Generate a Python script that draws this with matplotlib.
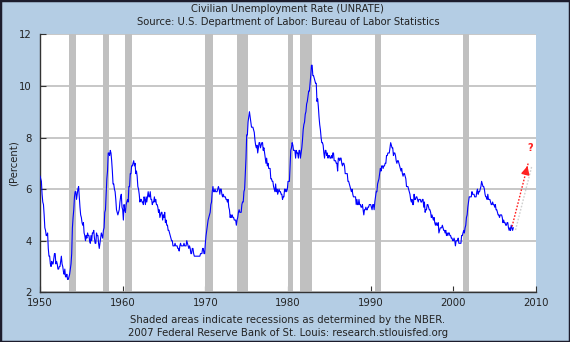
import numpy as np
import matplotlib
matplotlib.use("Agg")
import matplotlib.pyplot as plt  # noqa: E402
from matplotlib.patches import Rectangle  # noqa: E402
import matplotlib.patheffects as pe  # noqa: E402

# monthly civilian unemployment rate (%), Jan of first year onward
rate_1950s = [
    6.5, 6.4, 6.3, 5.8, 5.5, 5.4, 5.0, 4.5, 4.4, 4.2, 4.2, 4.3,
    3.7, 3.4, 3.4, 3.1, 3.0, 3.2, 3.1, 3.1, 3.3, 3.5, 3.5, 3.1,
    3.2, 3.1, 2.9, 2.9, 3.0, 3.0, 3.2, 3.4, 3.1, 3.0, 2.8, 2.7,
    2.9, 2.6, 2.6, 2.7, 2.5, 2.5, 2.6, 2.7, 2.9, 3.1, 3.5, 4.5,
    4.9, 5.2, 5.7, 5.9, 5.9, 5.6, 5.8, 6.0, 6.1, 5.7, 5.3, 5.0,
    4.9, 4.7, 4.6, 4.7, 4.3, 4.2, 4.0, 4.2, 4.1, 4.3, 4.2, 4.2,
    4.0, 3.9, 4.2, 4.0, 4.3, 4.3, 4.4, 4.1, 3.9, 3.9, 4.3, 4.2,
    4.2, 3.9, 3.7, 3.9, 4.1, 4.3, 4.2, 4.1, 4.4, 4.5, 5.1, 5.2,
    5.8, 6.4, 6.7, 7.4, 7.4, 7.3, 7.5, 7.4, 7.1, 6.7, 6.2, 6.2,
    6.0, 5.9, 5.6, 5.2, 5.1, 5.0, 5.1, 5.2, 5.5, 5.7, 5.8, 5.3,
]
rate_1960s = [
    5.2, 4.8, 5.4, 5.2, 5.1, 5.4, 5.5, 5.6, 5.5, 6.1, 6.1, 6.6,
    6.6, 6.9, 6.9, 7.0, 7.1, 6.9, 7.0, 6.6, 6.7, 6.5, 6.1, 6.0,
    5.8, 5.5, 5.6, 5.6, 5.5, 5.5, 5.4, 5.7, 5.6, 5.4, 5.7, 5.5,
    5.7, 5.9, 5.7, 5.7, 5.9, 5.6, 5.6, 5.4, 5.5, 5.5, 5.7, 5.5,
    5.6, 5.4, 5.4, 5.3, 5.1, 5.2, 4.9, 5.0, 5.1, 5.1, 4.8, 5.0,
    4.9, 5.1, 4.7, 4.8, 4.6, 4.6, 4.4, 4.4, 4.3, 4.2, 4.1, 4.0,
    4.0, 3.8, 3.8, 3.8, 3.9, 3.8, 3.8, 3.8, 3.7, 3.7, 3.6, 3.8,
    3.9, 3.8, 3.8, 3.8, 3.8, 3.9, 3.8, 3.8, 3.8, 4.0, 3.9, 3.8,
    3.7, 3.8, 3.7, 3.5, 3.5, 3.7, 3.7, 3.5, 3.4, 3.4, 3.4, 3.4,
    3.4, 3.4, 3.4, 3.4, 3.4, 3.5, 3.5, 3.5, 3.7, 3.7, 3.5, 3.5,
]
rate_1970s = [
    3.9, 4.2, 4.4, 4.6, 4.8, 4.9, 5.0, 5.1, 5.4, 5.5, 5.9, 6.1,
    5.9, 5.9, 6.0, 5.9, 5.9, 5.9, 6.0, 6.1, 6.0, 5.8, 6.0, 6.0,
    5.8, 5.7, 5.8, 5.7, 5.7, 5.7, 5.6, 5.6, 5.5, 5.6, 5.3, 5.2,
    4.9, 5.0, 4.9, 5.0, 4.9, 4.9, 4.8, 4.8, 4.8, 4.6, 4.8, 4.9,
    5.1, 5.2, 5.1, 5.1, 5.1, 5.4, 5.5, 5.5, 5.9, 6.0, 6.6, 7.2,
    8.1, 8.1, 8.6, 8.8, 9.0, 8.8, 8.6, 8.4, 8.4, 8.4, 8.3, 8.2,
    7.9, 7.7, 7.6, 7.7, 7.4, 7.6, 7.8, 7.8, 7.6, 7.7, 7.8, 7.8,
    7.5, 7.6, 7.4, 7.2, 7.0, 7.2, 6.9, 7.0, 6.8, 6.8, 6.8, 6.4,
    6.4, 6.3, 6.3, 6.1, 6.0, 5.9, 6.2, 5.9, 6.0, 5.8, 5.9, 6.0,
    5.9, 5.9, 5.8, 5.8, 5.6, 5.7, 5.7, 6.0, 5.9, 6.0, 5.9, 6.0,
]
rate_1980s = [
    6.3, 6.3, 6.3, 6.9, 7.5, 7.6, 7.8, 7.7, 7.5, 7.5, 7.5, 7.2,
    7.5, 7.4, 7.4, 7.2, 7.5, 7.5, 7.2, 7.4, 7.6, 7.9, 8.3, 8.5,
    8.6, 8.9, 9.0, 9.3, 9.4, 9.6, 9.8, 9.8, 10.1, 10.4, 10.8, 10.8,
    10.4, 10.4, 10.3, 10.2, 10.1, 10.1, 9.4, 9.5, 9.2, 8.8, 8.5, 8.3,
    8.0, 7.8, 7.8, 7.7, 7.4, 7.2, 7.5, 7.5, 7.3, 7.4, 7.2, 7.3,
    7.3, 7.2, 7.2, 7.3, 7.2, 7.4, 7.4, 7.1, 7.1, 7.1, 7.0, 7.0,
    6.7, 7.2, 7.2, 7.1, 7.2, 7.2, 7.0, 6.9, 7.0, 7.0, 6.9, 6.6,
    6.6, 6.6, 6.6, 6.3, 6.3, 6.2, 6.1, 6.0, 5.9, 6.0, 5.8, 5.7,
    5.7, 5.7, 5.7, 5.4, 5.6, 5.4, 5.4, 5.6, 5.4, 5.4, 5.3, 5.3,
    5.4, 5.2, 5.0, 5.2, 5.2, 5.3, 5.2, 5.2, 5.3, 5.3, 5.4, 5.4,
]
rate_1990s = [
    5.4, 5.3, 5.2, 5.4, 5.4, 5.2, 5.5, 5.7, 5.9, 5.9, 6.2, 6.3,
    6.4, 6.6, 6.8, 6.7, 6.9, 6.9, 6.8, 6.9, 6.9, 7.0, 7.0, 7.3,
    7.3, 7.4, 7.4, 7.4, 7.6, 7.8, 7.7, 7.6, 7.6, 7.3, 7.4, 7.4,
    7.3, 7.1, 7.0, 7.1, 7.1, 7.0, 6.9, 6.8, 6.7, 6.8, 6.6, 6.5,
    6.6, 6.6, 6.5, 6.4, 6.1, 6.1, 6.1, 6.0, 5.9, 5.8, 5.6, 5.5,
    5.6, 5.4, 5.4, 5.8, 5.6, 5.6, 5.7, 5.7, 5.6, 5.5, 5.6, 5.6,
    5.6, 5.5, 5.5, 5.6, 5.6, 5.3, 5.5, 5.1, 5.2, 5.2, 5.4, 5.4,
    5.3, 5.2, 5.2, 5.1, 4.9, 5.0, 4.9, 4.8, 4.9, 4.7, 4.6, 4.7,
    4.6, 4.6, 4.7, 4.3, 4.4, 4.5, 4.5, 4.5, 4.6, 4.5, 4.4, 4.4,
    4.3, 4.4, 4.2, 4.3, 4.2, 4.3, 4.3, 4.2, 4.2, 4.1, 4.1, 4.0,
]
rate_2000s = [
    4.0, 4.1, 4.0, 3.8, 4.0, 4.0, 4.0, 4.1, 3.9, 3.9, 3.9, 3.9,
    4.2, 4.2, 4.3, 4.4, 4.3, 4.5, 4.6, 4.9, 5.0, 5.3, 5.5, 5.7,
    5.7, 5.7, 5.7, 5.9, 5.8, 5.8, 5.8, 5.7, 5.7, 5.7, 5.9, 6.0,
    5.8, 5.9, 5.9, 6.0, 6.1, 6.3, 6.2, 6.1, 6.1, 6.0, 5.8, 5.7,
    5.7, 5.6, 5.8, 5.6, 5.6, 5.6, 5.5, 5.4, 5.4, 5.5, 5.4, 5.4,
    5.3, 5.4, 5.2, 5.2, 5.1, 5.0, 5.0, 4.9, 5.0, 5.0, 5.0, 4.9,
    4.7, 4.8, 4.7, 4.7, 4.6, 4.6, 4.7, 4.7, 4.5, 4.4, 4.5, 4.4,
    4.6, 4.5, 4.4, 4.5,
]
start_year = 1950

# NBER recessions (start, end) in decimal years
rec_start = [1953.5, 1957.6, 1960.3, 1969.9, 1973.85, 1980.0, 1981.5, 1990.5, 2001.2]
rec_end = [1954.4, 1958.3, 1961.1, 1970.9, 1975.2, 1980.55, 1982.9, 1991.2, 2001.9]

# hand-drawn projection arrow and its "?"
proj_x = [2007.1, 2009.05]
proj_y = [4.55, 7.0]
question_xy = (2009.3, 7.6)

x_ticks = [1950, 1960, 1970, 1980, 1990, 2000, 2010]
y_ticks = [2, 4, 6, 8, 10, 12]

BG = "#b4cde4"
TXT = "#222222"

rate = np.array(rate_1950s + rate_1960s + rate_1970s + rate_1980s + rate_1990s + rate_2000s)
t = start_year + np.arange(len(rate)) / 12.0

fig = plt.figure(figsize=(5.7, 3.42), dpi=100, facecolor=BG)
fig.patches.append(Rectangle((0, 0), 1, 1, transform=fig.transFigure, fill=False,
                             edgecolor="#1c1c2c", linewidth=2.5, zorder=10))
ax = fig.add_axes([0.0702, 0.1453, 0.8702, 0.7544])
ax.set_facecolor("white")

for s, e in zip(rec_start, rec_end):
    ax.axvspan(s, e, color="#c0c0c0", linewidth=0, zorder=1)

ax.set_yticks(y_ticks)
ax.set_xticks(x_ticks)
ax.grid(axis="y", color="#bdbdbd", linewidth=1.2, zorder=0.5)
ax.set_axisbelow(True)

ax.plot(t, rate, color="#0000ff", linewidth=0.8, zorder=3)

ax.plot(proj_x, proj_y, color="#ff2020", linestyle=(0, (1.2, 1.2)), linewidth=1.0, zorder=4,
        path_effects=[pe.SimpleLineShadow(offset=(2.5, -2.5), shadow_color="#777777", alpha=0.35),
                      pe.Normal()])
ax.annotate("", xy=(proj_x[1], proj_y[1]),
            xytext=(proj_x[1] - 0.2, proj_y[1] - 0.25),
            arrowprops=dict(arrowstyle="-|>,head_length=0.5,head_width=0.25",
                            color="#ff2020", lw=1.0), zorder=5)
ax.text(question_xy[0], question_xy[1], "?", color="#ff2020", fontsize=7, fontweight="bold",
        ha="center", va="center", zorder=5)

ax.set_xlim(1950, 2010)
ax.set_ylim(2, 12)
for side in ["top", "right"]:
    ax.spines[side].set_visible(False)
for side in ["left", "bottom"]:
    ax.spines[side].set_color("#333333")
    ax.spines[side].set_linewidth(1.0)
ax.tick_params(direction="in", length=4, width=0.8, color="#333333",
               labelsize=7.3, labelcolor=TXT)
ax.tick_params(axis="y", pad=6)
ax.tick_params(axis="x", pad=4)

ax.set_ylabel("(Percent)", fontsize=7.3, color=TXT)
ax.yaxis.set_label_coords(-0.044, 0.5)

fig.text(0.505, 0.975, "Civilian Unemployment Rate (UNRATE)", ha="center", va="center",
         fontsize=7.2, color=TXT)
fig.text(0.505, 0.937, "Source: U.S. Department of Labor: Bureau of Labor Statistics",
         ha="center", va="center", fontsize=7.2, color=TXT)
fig.text(0.505, 0.063, "Shaded areas indicate recessions as determined by the NBER.",
         ha="center", va="center", fontsize=7.3, color=TXT)
fig.text(0.505, 0.027, "2007 Federal Reserve Bank of St. Louis: research.stlouisfed.org",
         ha="center", va="center", fontsize=7.3, color=TXT)

fig.savefig("out.png", dpi=100, facecolor=BG)
